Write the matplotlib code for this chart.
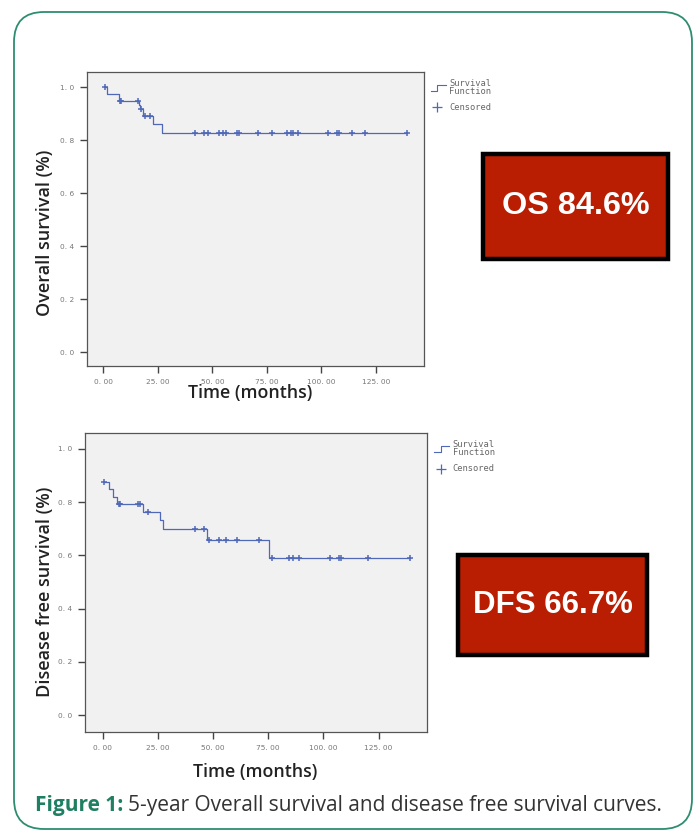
import numpy as np
import matplotlib
matplotlib.use("Agg")
import matplotlib.pyplot as plt
from matplotlib.patches import Rectangle, FancyBboxPatch

# Overall survival: step times [months] and survival after each step
os_times = [0.8, 1.8, 7.3, 16.2, 17.0, 18.4, 22.6, 26.8, 139.2]
os_surv = [1.0, 0.975, 0.947, 0.932, 0.918, 0.893, 0.860, 0.826, 0.826]
os_cens = [0.8, 7.5, 8.3, 16.0, 17.3, 19.2, 21.5, 42.1, 46.2, 48.2, 53.2, 54.8,
           56.3, 61.2, 62.1, 71.1, 77.2, 84.1, 85.9, 87.2, 89.4, 103.2, 107.1,
           108.0, 114.2, 120.2, 139.2]

# Disease free survival
dfs_times = [0.6, 3.0, 4.5, 6.3, 18.4, 26.0, 27.2, 47.2, 75.3, 139.0]
dfs_surv = [0.874, 0.847, 0.820, 0.794, 0.762, 0.731, 0.698, 0.659, 0.591, 0.591]
dfs_cens = [0.6, 7.2, 7.8, 16.2, 16.9, 20.7, 41.9, 46.0, 48.3, 52.9, 55.9, 61.0,
            71.0, 76.9, 84.2, 86.0, 89.0, 102.8, 107.0, 107.8, 120.0, 139.0]

xticks = [0, 25, 50, 75, 100, 125]
xticklabels = ["0. 00", "25. 00", "50. 00", "75. 00", "100. 00", "125. 00"]
yticks = [0.0, 0.2, 0.4, 0.6, 0.8, 1.0]
yticklabels = ["0. 0", "0. 2", "0. 4", "0. 6", "0. 8", "1. 0"]

line_col = "#4f68b8"
green = "#1e7f62"

W, H = 700, 832
fig = plt.figure(figsize=(7, 8.32), dpi=100)


def px_axes(l, t, r, b):
    return fig.add_axes([l / W, 1 - b / H, (r - l) / W, (b - t) / H])


def km_panel(ax, times, surv, cens, xlim, ylim):
    ax.set_facecolor("#f1f1f1")
    ax.step(times, surv, where="post", color=line_col, lw=0.9)
    idx = np.searchsorted(times, cens, side="right") - 1
    ax.plot(cens, np.array(surv)[idx], "+", color=line_col, ms=5, mew=1.1)
    ax.set_xlim(*xlim)
    ax.set_ylim(*ylim)
    ax.set_xticks(xticks)
    ax.set_xticklabels(xticklabels)
    ax.set_yticks(yticks)
    ax.set_yticklabels(yticklabels)
    ax.tick_params(direction="out", length=5, width=1.0, color="#444",
                   labelsize=5.3, labelcolor="#777", pad=4)
    for s in ax.spines.values():
        s.set_color("#555")
        s.set_linewidth(0.9)
    # legend drawn beside the axes
    tr = ax.transAxes
    x0 = 1.02
    ax.plot([x0, x0 + 0.02, x0 + 0.02, x0 + 0.045], [0.935, 0.935, 0.955, 0.955],
            color=line_col, lw=0.8, transform=tr, clip_on=False)
    leg = dict(transform=tr, fontsize=6.3, color="#666", va="center",
               family="DejaVu Sans Mono")
    ax.text(x0 + 0.055, 0.962, "Survival", **leg)
    ax.text(x0 + 0.055, 0.935, "Function", **leg)
    ax.plot([x0 + 0.02], [0.88], "+", color=line_col, ms=7, mew=0.9,
            transform=tr, clip_on=False)
    ax.text(x0 + 0.055, 0.88, "Censored", **leg)


ax1 = px_axes(87, 72, 424, 366)
km_panel(ax1, os_times, os_surv, os_cens, (-7.5, 147.1), (-0.052, 1.058))
ax2 = px_axes(85, 433, 427, 732)
km_panel(ax2, dfs_times, dfs_surv, dfs_cens, (-8.0, 146.9), (-0.063, 1.059))

lab = dict(family="Open Sans", fontweight="semibold", color="#222")
fig.text(45 / W, 1 - 233 / H, "Overall survival (%)", rotation=90, fontsize=13,
         ha="center", va="center", **lab)
fig.text(45 / W, 1 - 592 / H, "Disease free survival (%)", rotation=90, fontsize=13,
         ha="center", va="center", **lab)
fig.text(250 / W, 1 - 393 / H, "Time (months)", fontsize=12.8,
         ha="center", va="center", **lab)
fig.text(255 / W, 1 - 772 / H, "Time (months)", fontsize=12.8,
         ha="center", va="center", **lab)

# red result boxes
for (l, t, r, b, txt, fs) in [(483, 154, 668, 259, "OS 84.6%", 23.3),
                              (458, 555, 647, 655, "DFS 66.7%", 22.5)]:
    fig.patches.append(Rectangle((l / W, 1 - b / H), (r - l) / W, (b - t) / H,
                                 transform=fig.transFigure, facecolor="#b91d02",
                                 edgecolor="black", linewidth=3.2))
    fig.text((l + r) / 2 / W, 1 - (t + b) / 2 / H, txt, ha="center", va="center",
             color="white", fontsize=fs, fontweight="bold", family="Liberation Sans")

# outer rounded frame
fig.patches.append(FancyBboxPatch((0.14 + 0.3, 0.03 + 0.3), 6.78 - 0.6, 8.17 - 0.6,
                                  boxstyle="round,pad=0.3", transform=fig.dpi_scale_trans,
                                  facecolor="none", edgecolor="#2e8d70", linewidth=1.3))

# caption
t1 = fig.text(35 / W, 1 - 806 / H, "Figure 1:", color=green, fontsize=15,
              fontweight="bold", family="Open Sans", va="center")
fig.canvas.draw()
bb = t1.get_window_extent()
fig.text((bb.x1 + 5) / W, 1 - 806 / H, "5-year Overall survival and disease free survival curves.",
         color="#333", fontsize=15, family="Open Sans", va="center")

fig.savefig("out.png", dpi=100)
